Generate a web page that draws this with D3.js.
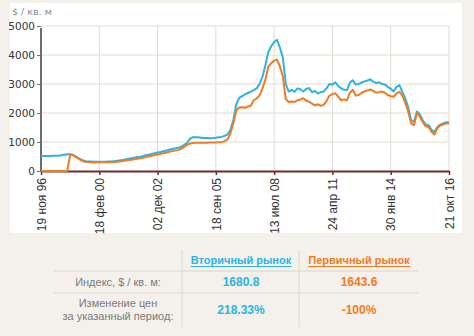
<!DOCTYPE html>
<html>
<head>
<meta charset="utf-8">
<script src="https://cdn.jsdelivr.net/npm/d3@7"></script>
<style>
  html, body { margin: 0; padding: 0; background: #f4f1ec; }
  svg { display: block; }
</style>
</head>
<body>
<svg id="chart" width="474" height="336"></svg>
<script>
// Price index, $ per sq. m, sampled at regular steps between the labelled dates
const tickLabels = ["19 ноя 96", "18 фев 00", "02 дек 02", "18 сен 05", "13 июл 08", "24 апр 11", "30 янв 14", "21 окт 16"];
const yTicks = [0, 1000, 2000, 3000, 4000, 5000];

const secondary = [
  520, 520, 518, 520, 522, 525, 530, 540, 560, 575,
  580, 560, 500, 440, 380, 345, 330, 325, 322, 320,
  320, 320, 322, 325, 330, 340, 350, 365, 380, 400,
  420, 440, 460, 480, 495, 515, 540, 565, 590, 615,
  635, 655, 680, 705, 735, 760, 780, 800, 830, 890,
  955, 1100, 1160, 1165, 1160, 1150, 1140, 1135, 1130, 1135,
  1145, 1160, 1175, 1210, 1260, 1420, 1760, 2300, 2520, 2580,
  2640, 2690, 2740, 2790, 2850, 3000, 3250, 3650, 4100, 4300,
  4450, 4520, 4250, 3900, 3000, 2740, 2800, 2730, 2850, 2820,
  2740, 2830, 2860, 2720, 2760, 2670, 2720, 2740, 2860, 3000,
  2980, 3060, 2930, 2850, 2800, 2790, 3050, 3130, 2980, 3000,
  3050, 3090, 3120, 3160, 3080, 3030, 3060, 3000, 2980, 2900,
  2840, 2740, 2900, 2960, 2720, 2500, 2200, 1750, 1700, 2050,
  1950, 1750, 1600, 1580, 1420, 1350, 1520, 1600, 1640, 1680,
  1680.8
];

const primary = [
  0, 0, 0, 0, 0, 0, 0, 0, 0, 0,
  560, 540, 480, 420, 360, 320, 310, 305, 303, 302,
  300, 300, 300, 302, 305, 312, 320, 330, 345, 360,
  375, 390, 405, 425, 440, 460, 480, 505, 525, 550,
  570, 590, 610, 635, 660, 685, 705, 720, 760, 820,
  897, 940, 965, 975, 977, 977, 977, 978, 980, 982,
  985, 990, 995, 1030, 1090, 1300, 1650, 2080, 2190, 2200,
  2180, 2220, 2250, 2440, 2500, 2610, 2850, 3150, 3600, 3720,
  3800, 3840, 3600, 3250, 2480, 2380, 2400, 2380, 2440, 2460,
  2510, 2420, 2390, 2320, 2260, 2300, 2250, 2280, 2420, 2600,
  2650, 2680, 2560, 2440, 2470, 2440, 2700, 2800, 2600, 2620,
  2700, 2740, 2780, 2810, 2760, 2700, 2720, 2740, 2700, 2620,
  2580, 2560, 2680, 2730, 2600, 2350, 2050, 1650, 1580, 2000,
  1880, 1680, 1540, 1520, 1350, 1260, 1470, 1570, 1600, 1640,
  1643.6
];

const seriesNames = ["Вторичный рынок", "Первичный рынок"];
const indexValues = ["1680.8", "1643.6"];
const changeValues = ["218.33%", "-100%"];

const blue = "#2cb3e2";
const orange = "#f07b22";

const svg = d3.select("#chart");

// white chart panel
svg.append("rect").attr("x", 10).attr("y", 3).attr("width", 452).attr("height", 230).attr("fill", "#ffffff");

const plotL = 41, plotR = 449, plotT = 26, plotB = 171;
const stepsPerTick = (secondary.length - 1) / (tickLabels.length - 1);

const x = d3.scaleLinear().domain([0, secondary.length - 1]).range([plotL, plotR]);
const y = d3.scaleLinear().domain([0, 5000]).range([plotB, plotT]);

// grid
svg.append("g").selectAll("line").data(yTicks.filter(d => d > 0)).join("line")
  .attr("x1", plotL).attr("x2", plotR)
  .attr("y1", d => y(d)).attr("y2", d => y(d))
  .attr("stroke", "#e2dcd2").attr("stroke-width", 1);
svg.append("g").selectAll("line").data(tickLabels.map((d, i) => i * stepsPerTick).slice(1)).join("line")
  .attr("x1", d => x(d)).attr("x2", d => x(d))
  .attr("y1", plotT).attr("y2", plotB)
  .attr("stroke", "#e2dcd2").attr("stroke-width", 1);

// unit caption
svg.append("text").attr("x", 12).attr("y", 15)
  .attr("font-family", "DejaVu Sans, sans-serif").attr("font-size", 9.5).attr("fill", "#8a8a8a")
  .text("$ / кв. м");

// y axis
const yAxis = svg.append("g").attr("transform", `translate(${plotL},0)`)
  .call(d3.axisLeft(y).tickValues(yTicks).tickSize(4).tickPadding(2).tickFormat(d3.format("d")));
yAxis.select(".domain").attr("stroke", "#6d6d6d").attr("stroke-width", 2).attr("d", `M0,${plotT + 2}V${plotB}`);
yAxis.selectAll(".tick line").attr("stroke", "#6d6d6d");
yAxis.selectAll("text").attr("font-family", "DejaVu Sans, sans-serif").attr("font-size", 10.5).attr("fill", "#333");

// x axis
const xAxis = svg.append("g").attr("transform", `translate(0,${plotB})`)
  .call(d3.axisBottom(x)
    .tickValues(tickLabels.map((d, i) => i * stepsPerTick))
    .tickFormat((d, i) => tickLabels[i])
    .tickSize(4).tickSizeOuter(0));
xAxis.select(".domain").attr("stroke", "#6e2c2c").attr("stroke-width", 2);
xAxis.selectAll(".tick line").attr("stroke", "#6e2c2c").attr("stroke-width", 1.5);
xAxis.selectAll("text")
  .attr("font-family", "Liberation Sans, Arial, sans-serif").attr("font-size", 12).attr("fill", "#333")
  .attr("text-anchor", "end").attr("transform", "rotate(-90)")
  .attr("x", -7).attr("y", 0).attr("dy", "0.35em");

// lines, drawn above the axes
const line = d3.line().x((d, i) => x(i)).y(d => y(d));
svg.append("path").datum(secondary).attr("d", line)
  .attr("fill", "none").attr("stroke", blue).attr("stroke-width", 2).attr("stroke-linejoin", "round");
svg.append("path").datum(primary).attr("d", line)
  .attr("fill", "none").attr("stroke", orange).attr("stroke-width", 2).attr("stroke-linejoin", "round");

// summary table
const colX = [118, 241, 359];
const tbl = svg.append("g").attr("font-family", "Liberation Sans, Arial, sans-serif").attr("font-size", 11);
tbl.selectAll("line.v").data([182, 299]).join("line")
  .attr("x1", d => d).attr("x2", d => d).attr("y1", 250).attr("y2", 327)
  .attr("stroke", "#dcd6cc");
tbl.selectAll("line.h").data([271, 293]).join("line")
  .attr("x1", 54).attr("x2", 418).attr("y1", d => d).attr("y2", d => d)
  .attr("stroke", "#dcd6cc");

const headers = [];
seriesNames.forEach((name, i) => {
  const c = i === 0 ? blue : orange;
  headers.push(tbl.append("text").attr("x", colX[i + 1]).attr("y", 264).attr("text-anchor", "middle")
    .attr("font-weight", "bold").attr("fill", c).text(name));
  tbl.append("text").attr("x", colX[i + 1]).attr("y", 286).attr("text-anchor", "middle")
    .attr("font-weight", "bold").attr("font-size", 12).attr("fill", c).text(indexValues[i]);
  tbl.append("text").attr("x", colX[i + 1]).attr("y", 314).attr("text-anchor", "middle")
    .attr("font-weight", "bold").attr("font-size", 12).attr("fill", c).text(changeValues[i]);
});
// underline the series headers
headers.forEach(h => {
  const b = h.node().getBBox();
  tbl.append("line").attr("x1", b.x).attr("x2", b.x + b.width).attr("y1", 266.5).attr("y2", 266.5)
    .attr("stroke", h.attr("fill")).attr("stroke-width", 1);
});

tbl.append("text").attr("x", colX[0]).attr("y", 286).attr("text-anchor", "middle").attr("fill", "#7a7a7a")
  .text("Индекс, $ / кв. м:");
tbl.append("text").attr("x", colX[0]).attr("y", 307).attr("text-anchor", "middle").attr("fill", "#7a7a7a")
  .text("Изменение цен");
tbl.append("text").attr("x", colX[0]).attr("y", 320).attr("text-anchor", "middle").attr("fill", "#7a7a7a")
  .text("за указанный период:");
</script>
</body>
</html>
